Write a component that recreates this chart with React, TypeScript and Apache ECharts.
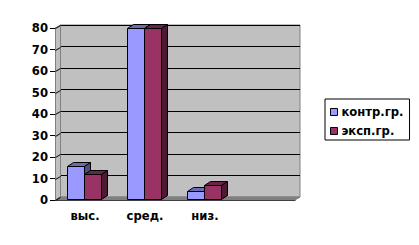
import React, { useEffect, useRef } from "react";
import * as echarts from "echarts";

// Category names, series values and tick values
const categories = ["выс.", "сред.", "низ.", ""];
const controlGroup = [16, 80, 4, null];
const experimentGroup = [12, 80, 7, null];
const seriesNames = ["контр.гр.", "эксп.гр."];
const yTicks = [0, 10, 20, 30, 40, 50, 60, 70, 80];

// Face colours of the 3D columns: front, top, side
const palettes = [
  { front: "#9999FF", top: "#6B6BB3", side: "#4D4D80" },
  { front: "#993366", top: "#6B2447", side: "#4D1A33" },
];

const BAR_W = 17;
const DX = 6;
const DY = -4;
const WALL_DX = 5;
const WALL_DY = -3;
const FONT = "DejaVu Sans";
const FONT_SIZE = 11.6;

const px = (v: number) => Math.round(v) + 0.5;

function columnRenderer(seriesIdx: number) {
  const pal = palettes[seriesIdx];
  return (params: any, api: any) => {
    const cat = api.value(0);
    const v = api.value(1);
    const [cx, y0raw] = api.coord([cat, 0]);
    const [, y1raw] = api.coord([cat, v]);
    const x0 = px(cx - 18 + seriesIdx * BAR_W);
    const x1 = x0 + BAR_W;
    const y0 = px(y0raw) - 1;
    const y1 = px(y1raw);
    const edge = { stroke: "#000", lineWidth: 1 };
    return {
      type: "group",
      children: [
        {
          type: "polygon",
          shape: { points: [[x0, y1], [x1, y1], [x1 + DX, y1 + DY], [x0 + DX, y1 + DY]] },
          style: { fill: pal.top, ...edge },
        },
        {
          type: "polygon",
          shape: { points: [[x1, y1], [x1 + DX, y1 + DY], [x1 + DX, y0 + DY], [x1, y0]] },
          style: { fill: pal.side, ...edge },
        },
        {
          type: "rect",
          shape: { x: x0, y: y1, width: BAR_W, height: y0 - y1 },
          style: { fill: pal.front, ...edge },
        },
      ],
    };
  };
}

export default function App() {
  const ref = useRef<HTMLDivElement>(null);

  useEffect(() => {
    if (!ref.current) return;
    const chart = echarts.init(ref.current, null, { renderer: "svg" });

    const gridLeft = 55;
    const gridTop = 28;
    const gridRight = 124;
    const gridBottom = 45;
    const W = 419;
    const H = 245;
    const fx0 = gridLeft;
    const fx1 = W - gridRight;
    const fy0 = H - gridBottom;
    const fyTop = gridTop;

    chart.setOption({
      animation: false,
      backgroundColor: "#fff",
      textStyle: { fontFamily: FONT },
      grid: [
        { left: gridLeft, top: gridTop, right: gridRight, bottom: gridBottom },
        {
          left: gridLeft + WALL_DX,
          top: gridTop + WALL_DY,
          right: gridRight - WALL_DX,
          bottom: gridBottom - WALL_DY,
          show: true,
          backgroundColor: "#C0C0C0",
          borderColor: "#808080",
          borderWidth: 1,
        },
      ],
      xAxis: [
        {
          type: "category",
          gridIndex: 0,
          data: categories,
          axisLine: { lineStyle: { color: "#000", width: 1 } },
          axisTick: { length: 4, lineStyle: { color: "#000" } },
          axisLabel: {
            color: "#000",
            fontFamily: FONT,
            fontWeight: "bold",
            fontSize: FONT_SIZE,
            margin: 10,
          },
          splitLine: { show: false },
        },
        {
          type: "category",
          gridIndex: 1,
          data: categories,
          show: false,
        },
      ],
      yAxis: [
        {
          type: "value",
          gridIndex: 0,
          min: 0,
          max: 80,
          interval: 10,
          axisLine: { show: true, lineStyle: { color: "#000", width: 1 } },
          axisTick: { show: true, length: 5, lineStyle: { color: "#000" } },
          axisLabel: {
            color: "#000",
            fontFamily: FONT,
            fontWeight: "bold",
            fontSize: FONT_SIZE,
            margin: 7,
          },
          splitLine: { show: false },
        },
        {
          type: "value",
          gridIndex: 1,
          min: 0,
          max: 80,
          interval: 10,
          axisLine: { show: false },
          axisTick: { show: false },
          axisLabel: { show: false },
          splitLine: { show: true, lineStyle: { color: "#000", width: 1 } },
        },
      ],
      legend: {
        left: 325,
        top: 99,
        orient: "vertical",
        data: seriesNames,
        icon: "rect",
        itemWidth: 7,
        itemHeight: 7,
        itemGap: 7,
        padding: [7, 6, 3, 5],
        borderColor: "#000",
        borderWidth: 1,
        borderRadius: 0,
        backgroundColor: "#fff",
        itemStyle: { borderColor: "#000", borderWidth: 1 },
        textStyle: {
          color: "#000",
          fontFamily: FONT,
          fontWeight: "bold",
          fontSize: FONT_SIZE,
          padding: [0, 0, 0, -1],
        },
      },
      graphic: [
        // side wall
        {
          type: "polygon",
          z: 1,
          shape: {
            points: [
              [fx0 + 0.5, fy0],
              [fx0 + 0.5, fyTop],
              [fx0 + WALL_DX + 0.5, fyTop + WALL_DY],
              [fx0 + WALL_DX + 0.5, fy0 + WALL_DY],
            ],
          },
          style: { fill: "#C0C0C0", stroke: "#808080", lineWidth: 1 },
        },
        // floor
        {
          type: "polygon",
          z: 1,
          shape: {
            points: [
              [fx0, fy0],
              [fx0 + WALL_DX, fy0 + WALL_DY],
              [fx1 + WALL_DX, fy0 + WALL_DY],
              [fx1, fy0],
            ],
          },
          style: { fill: "#808080", stroke: "#808080", lineWidth: 1 },
        },
      ],
      series: [
        // diagonal tick lines across the side wall
        {
          type: "custom",
          xAxisIndex: 0,
          yAxisIndex: 0,
          silent: true,
          z: 1.5,
          data: yTicks.map((t) => [0, t]),
          renderItem: (params: any, api: any) => {
            const y = px(api.coord([0, api.value(1)])[1]);
            return {
              type: "line",
              shape: { x1: fx0 + 0.5, y1: y, x2: fx0 + WALL_DX + 0.5, y2: y + WALL_DY },
              style: { stroke: "#000", lineWidth: 1 },
            };
          },
        },
        {
          type: "custom",
          name: seriesNames[0],
          xAxisIndex: 0,
          yAxisIndex: 0,
          z: 3,
          itemStyle: { color: palettes[0].front },
          data: controlGroup.map((v, i) => (v == null ? null : [i, v])).filter(Boolean),
          renderItem: columnRenderer(0),
        },
        {
          type: "custom",
          name: seriesNames[1],
          xAxisIndex: 0,
          yAxisIndex: 0,
          z: 4,
          itemStyle: { color: palettes[1].front },
          data: experimentGroup.map((v, i) => (v == null ? null : [i, v])).filter(Boolean),
          renderItem: columnRenderer(1),
        },
      ],
    });

    return () => chart.dispose();
  }, []);

  return <div ref={ref} style={{ width: 419, height: 245, position: "absolute", left: 0, top: 0 }} />;
}
